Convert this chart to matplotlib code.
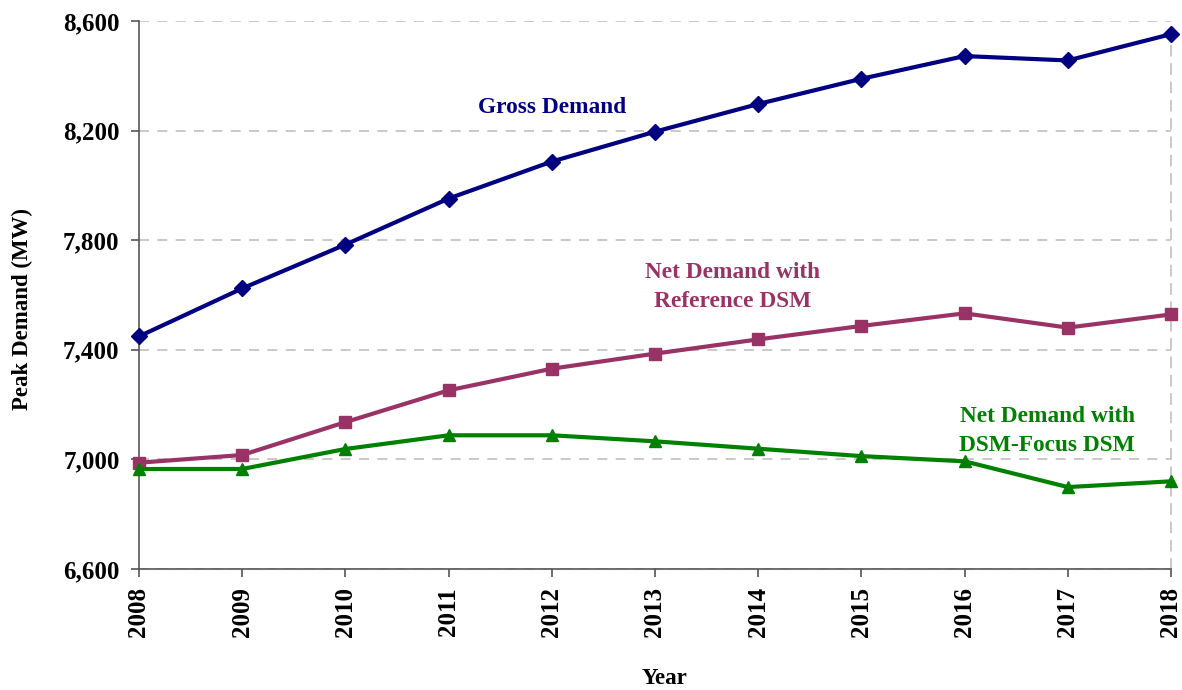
import matplotlib
matplotlib.use("Agg")
import matplotlib.pyplot as plt
from matplotlib.ticker import FuncFormatter

years = [2008, 2009, 2010, 2011, 2012, 2013, 2014, 2015, 2016, 2017, 2018]
gross = [7449, 7624, 7784, 7952, 8087, 8196, 8297, 8389, 8472, 8456, 8552]
reference = [6988, 7016, 7136, 7252, 7331, 7386, 7438, 7487, 7533, 7481, 7529]
dsm_focus = [6965, 6965, 7038, 7088, 7088, 7066, 7039, 7012, 6993, 6899, 6920]
yticks = [6600, 7000, 7400, 7800, 8200, 8600]

plt.rcParams['font.family'] = ['Liberation Serif', 'DejaVu Serif']
plt.rcParams['font.weight'] = 'bold'

fig = plt.figure(figsize=(11.82, 6.90), dpi=100)
ax = fig.add_axes([139/1182, 1-569/690, (1171-139)/1182, (569-21)/690])

c_gross = '#000080'
c_ref = '#993366'
c_dsm = '#008000'

ax.plot(years, gross, color=c_gross, lw=3, marker='D', ms=8, zorder=3, clip_on=False)
ax.plot(years, reference, color=c_ref, lw=3, marker='s', ms=8, zorder=3, clip_on=False)
ax.plot(years, dsm_focus, color=c_dsm, lw=3, marker='^', ms=9, zorder=3, clip_on=False)

ax.set_xlim(2008, 2018)
ax.set_ylim(6600, 8600)
ax.set_yticks(yticks)
ax.set_xticks(years)
ax.yaxis.set_major_formatter(FuncFormatter(lambda v, p: f"{int(v):,}"))
ax.set_xticklabels([str(y) for y in years], rotation=90)

ax.grid(axis='y', color='#c0c0c0', linestyle=(0, (6, 5)), lw=1.2, zorder=0)
ax.spines['top'].set_visible(False)
ax.spines['right'].set_color('#c0c0c0')
ax.spines['right'].set_linestyle((0, (6, 5)))
ax.spines['right'].set_linewidth(1.2)
for s in ['left', 'bottom']:
    ax.spines[s].set_color('#555555')
    ax.spines[s].set_linewidth(1.2)

ax.tick_params(axis='both', direction='out', length=6, width=1.2, color='#555555',
               labelsize=18)
ax.tick_params(axis='y', pad=8)
ax.tick_params(axis='x', pad=7)
for lab in ax.get_xticklabels() + ax.get_yticklabels():
    lab.set_fontweight('bold')

fig.text(22/1182, 1-309/690, 'Peak Demand (MW)', rotation=90, ha='center', va='center',
         fontsize=16.5, fontweight='bold')
fig.text(665/1182, 1-678/690, 'Year', ha='center', va='center', fontsize=16.5, fontweight='bold')

ax.text(2012.0, 8286, 'Gross Demand', color=c_gross, ha='center', va='center',
        fontsize=16.8, fontweight='bold')
ax.text(2013.75, 7630, 'Net Demand with\nReference DSM', color=c_ref, ha='center', va='center',
        fontsize=16.8, fontweight='bold', linespacing=1.5)
ax.text(2016.8, 7102, 'Net Demand with\nDSM-Focus DSM', color=c_dsm, ha='center', va='center',
        fontsize=16.8, fontweight='bold', linespacing=1.5)

fig.savefig('out.png', dpi=100)
